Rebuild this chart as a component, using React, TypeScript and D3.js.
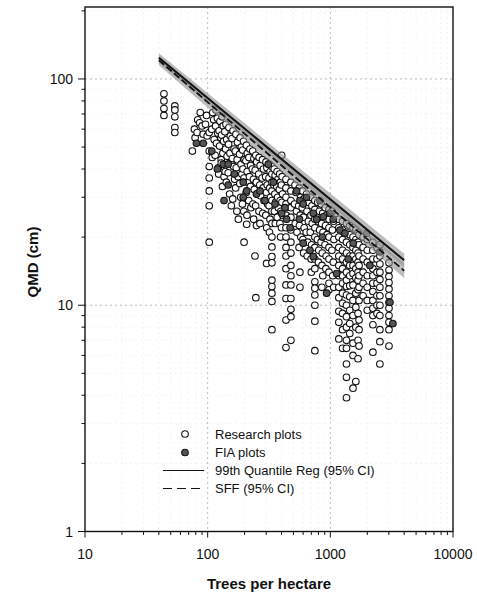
import React, { useEffect, useRef } from "react";
import * as d3 from "d3";

// [trees per hectare, QMD cm]
const researchPlots: [number, number][] = [
  [44, 86], [44, 80], [44, 74], [44, 69],
  [54, 76], [54, 73], [54, 68], [54, 61], [54, 58],
  [75, 48], [78, 60], [79, 55], [82, 58], [83, 66], [87, 71], [86, 64], [90, 62], [92, 57],
  [98, 69], [96, 63], [99, 56],
  [103, 58], [103, 48], [103, 41], [103, 36.5], [103, 32], [103, 27.5], [103, 19],
  [110, 71], [112, 66], [108, 60], [113, 54], [109, 45],
  [117, 73], [120, 67], [116, 62], [121, 57.5], [118, 52], [115, 46], [122, 40.5],
  [126, 65], [124, 59], [128, 55], [125, 50.5], [129, 44], [123, 38],
  [131, 68], [134, 62], [130, 56.5], [135, 53], [133, 47], [129, 42.5], [136, 37], [132, 33.5],
  [141, 63], [138, 58.5], [143, 54], [140, 49], [144, 45.5], [139, 39], [142, 35],
  [149, 61], [153, 56], [148, 51.5], [152, 47], [155, 43], [147, 38.5], [151, 31], [156, 27.5],
  [161, 59], [158, 54.5], [164, 49], [159, 44.5], [163, 41], [166, 36], [160, 29.5],
  [170, 57], [175, 52.5], [168, 48], [174, 44], [171, 40.5], [177, 37], [169, 33], [173, 26], [178, 24],
  [184, 55], [188, 50], [182, 46.5], [187, 42], [190, 38], [183, 34.5], [186, 30],
  [196, 53], [193, 48.5], [199, 44], [194, 40], [198, 36.5], [192, 28], [197, 26], [198, 19],
  [207, 51], [211, 47], [205, 43.5], [210, 39], [213, 35], [206, 31.5], [209, 25], [208, 22.8],
  [221, 49], [217, 45], [224, 41.5], [219, 37], [223, 33.5], [216, 29], [225, 27],
  [233, 48], [238, 44.5], [231, 40], [236, 36], [240, 32.5], [234, 28], [237, 24],
  [247, 46], [251, 43], [244, 39.5], [249, 35], [253, 31], [246, 27.5], [250, 22.5], [243, 16.5], [247, 10.8],
  [263, 45], [268, 41.5], [261, 38], [266, 34], [270, 30.5], [262, 26], [267, 23],
  [280, 44], [285, 40], [278, 36.5], [283, 33], [288, 29], [281, 25.5],
  [299, 43], [304, 40.5], [297, 37], [306, 34], [301, 31.5], [308, 28], [298, 25], [303, 22], [302, 15.3],
  [318, 42], [323, 39], [316, 36.5], [321, 33], [325, 30], [317, 27.5], [322, 24], [319, 21],
  [334, 41], [334, 38], [334, 35], [334, 32], [334, 29], [334, 26], [334, 23], [334, 20], [334, 18.1],
  [334, 16.4], [334, 15.4], [334, 12.9], [334, 12.1], [334, 11.3], [334, 10.4], [334, 7.8],
  [349, 40], [355, 37.5], [347, 34], [353, 31], [358, 28.5], [350, 26], [356, 23],
  [368, 39], [374, 36], [366, 33.5], [372, 30], [377, 27], [369, 24.5],
  [386, 38], [392, 35], [384, 32.5], [390, 29], [395, 26], [388, 23], [393, 20],
  [401, 46], [405, 37], [399, 34], [408, 31], [403, 28.5], [410, 25], [400, 22],
  [435, 36], [435, 33], [435, 30], [435, 28], [435, 25], [435, 22], [435, 20], [435, 18], [435, 16.5],
  [435, 14.5], [435, 12.3], [435, 10.7], [435, 8.6], [435, 6.5],
  [477, 35], [477, 32], [477, 29], [477, 27], [477, 24.5], [477, 21.5], [477, 19], [477, 17], [477, 15],
  [477, 13.5], [477, 12.3], [477, 10.7], [477, 9.6], [477, 8.9], [477, 7.0],
  [515, 34], [525, 31.5], [510, 28], [530, 26], [518, 23], [535, 21],
  [558, 33], [572, 30], [552, 27.5], [568, 25], [560, 22.5], [575, 20], [556, 18], [565, 14], [565, 12],
  [595, 32], [608, 29.5], [590, 27], [604, 24.5], [612, 22], [598, 19.5], [606, 17],
  [640, 31], [658, 28.5], [645, 26], [662, 23.5], [636, 21], [655, 19], [648, 16.5],
  [690, 30], [708, 27.5], [695, 25], [712, 23], [686, 21], [704, 18.5], [698, 16], [700, 14],
  [748, 29], [748, 26.5], [748, 24], [748, 22], [748, 20], [748, 18], [748, 16], [748, 14.5], [748, 12.7],
  [748, 11.9], [748, 11.1], [748, 10.0], [748, 8.5], [748, 6.3],
  [790, 28.5], [812, 26], [796, 23.5], [818, 21.5], [785, 19.5], [805, 17.5], [800, 15.5],
  [845, 28], [866, 25.5], [850, 23], [872, 21], [840, 19], [860, 17], [855, 15], [868, 13.5], [852, 12],
  [910, 27], [932, 25], [915, 22.5], [938, 20.5], [905, 18.5], [925, 16.5], [920, 14.5],
  [975, 26.5], [975, 24], [975, 22], [975, 20], [975, 18], [975, 16], [975, 14], [975, 12.5], [975, 11.7],
  [1035, 26], [1062, 23.5], [1040, 21.5], [1070, 19.5], [1030, 17.5], [1058, 15.5], [1045, 13.5], [1065, 12],
  [1173, 24], [1173, 22], [1173, 20], [1173, 18], [1173, 16.5], [1173, 15], [1173, 13.5], [1173, 12],
  [1173, 10.8], [1173, 9.4], [1173, 8.4], [1173, 7.1],
  [1258, 23.5], [1258, 21.5], [1258, 19.5], [1258, 17.5], [1258, 16], [1258, 14.5], [1258, 13.5],
  [1258, 12.5], [1258, 11.3], [1258, 10.2], [1258, 9.2], [1258, 7.8], [1258, 6.45],
  [1354, 23], [1354, 21], [1354, 19], [1354, 17], [1354, 15.5], [1354, 14], [1354, 12.9], [1354, 12.1],
  [1354, 11.1], [1354, 10.0], [1354, 8.9], [1354, 8.0], [1354, 7.0], [1354, 6.45], [1354, 5.5],
  [1354, 4.8], [1354, 3.9],
  [1440, 22.5], [1440, 20.5], [1440, 18.5], [1440, 16.5], [1440, 15], [1440, 13.5], [1440, 12.2],
  [1440, 10.9], [1440, 9.5], [1440, 8.3], [1440, 7.5],
  [1530, 22], [1530, 20], [1530, 18], [1530, 16.5], [1530, 15], [1530, 13.8], [1530, 12.3], [1530, 10.5],
  [1530, 9.0], [1530, 6.8], [1530, 6.0], [1530, 4.3],
  [1614, 21.5], [1614, 19.5], [1614, 17.5], [1614, 16], [1614, 14.5], [1614, 13.2], [1614, 11.3],
  [1614, 9.8], [1614, 8.0], [1614, 4.6],
  [1682, 21], [1682, 19], [1682, 17], [1682, 15.5], [1682, 14], [1682, 12.9], [1682, 11.7], [1682, 9.2],
  [1682, 7.0], [1682, 5.8],
  [1714, 20.5], [1714, 18.5], [1714, 16.5], [1714, 15], [1714, 13.5], [1714, 12], [1714, 10.5],
  [1714, 8.6], [1714, 7.8], [1714, 6.6],
  [1850, 20], [1850, 18], [1850, 16], [1850, 14], [1850, 12.5], [1850, 11],
  [2000, 19.5], [2000, 17.5], [2000, 15.5], [2000, 13.5], [2000, 12], [2000, 10.5], [2000, 9.5],
  [2223, 19], [2223, 17.5], [2223, 16], [2223, 14.5], [2223, 13.5], [2223, 12.5], [2223, 11.5],
  [2223, 10.5], [2223, 9.7], [2223, 9], [2223, 8.2], [2223, 6.2],
  [2400, 18], [2400, 16], [2400, 14], [2400, 12.5], [2400, 11], [2400, 10], [2400, 9.2],
  [2535, 18.5], [2535, 16.5], [2535, 15.2], [2535, 14], [2535, 13], [2535, 12], [2535, 11], [2535, 10],
  [2535, 9], [2535, 7.8], [2535, 6.9], [2535, 5.5],
  [3006, 15.4], [3006, 14.3], [3006, 13.4], [3006, 12.6], [3006, 11.8], [3006, 11], [3006, 10.3],
  [3006, 9.7], [3006, 9], [3006, 8.4], [3006, 7.8], [3006, 6.6],
];

const fiaPlots: [number, number][] = [
  [81, 52], [92, 52], [108, 48], [120, 40], [134, 42], [147, 42], [147, 34], [136, 29], [165, 38],
  [195, 35], [208, 32], [195, 30], [250, 31], [267, 32], [293, 29], [312, 42], [343, 35], [354, 28],
  [401, 25.5], [427, 27], [440, 24], [470, 22], [531, 32], [560, 24], [565, 29], [601, 28], [641, 30],
  [726, 25.5], [773, 24], [823, 29], [860, 20], [875, 24.6], [990, 25.5], [1056, 24], [601, 18.8],
  [682, 17.5], [726, 16.4], [933, 11.3], [1125, 13.8], [1198, 21.5], [1315, 20.8], [1400, 16],
  [1537, 18.8], [1977, 20.8], [2100, 15], [2536, 17.2], [3236, 8.3], [3060, 10.3],
];

// fitted lines, end points in trees per hectare
const lineTph = [40, 4000];
const q99Fit = [124, 15.8];
const q99Lower = [118, 14.8];
const q99Upper = [130, 16.9];
const sffFit = [121, 14.2];
const sffLower = [115, 13.2];
const sffUpper = [127, 15.3];

const xTickLabels = [10, 100, 1000, 10000];
const yTickLabels = [1, 10, 100];
const legendLabels = ["Research plots", "FIA plots", "99th Quantile Reg (95% CI)", "SFF (95% CI)"];

const W = 477;
const H = 596;
const FONT = "'Liberation Sans', Arial, Helvetica, sans-serif";

const App: React.FC = () => {
  const svgRef = useRef<SVGSVGElement | null>(null);

  useEffect(() => {
    if (!svgRef.current) return;
    const svg = d3.select(svgRef.current);
    svg.selectAll("*").remove();

    const left = 85, right = 453, top = 7, bottom = 531.5;
    const x = d3.scaleLog().domain([10, 10000]).range([left, right]);
    const y = d3.scaleLog().domain([1, 208]).range([bottom, top]);

    svg.append("rect").attr("width", W).attr("height", H).attr("fill", "#fff");

    const isMajor = (v: number) => Math.abs(Math.log10(v) - Math.round(Math.log10(v))) < 1e-9;

    // faint grid (major decades a little darker)
    const grid = svg.append("g");
    x.ticks().filter((v) => v > 10 && v < 10000).forEach((v) => {
      grid.append("line")
        .attr("x1", x(v)).attr("x2", x(v)).attr("y1", top).attr("y2", bottom)
        .attr("stroke", isMajor(v) ? "#a8a8a8" : "#f0f0f0")
        .attr("stroke-width", 0.8)
        .attr("stroke-dasharray", "2,3");
    });
    y.ticks().filter((v) => v > 1 && v < 208).forEach((v) => {
      grid.append("line")
        .attr("y1", y(v)).attr("y2", y(v)).attr("x1", left).attr("x2", right)
        .attr("stroke", isMajor(v) ? "#a8a8a8" : "#f0f0f0")
        .attr("stroke-width", 0.8)
        .attr("stroke-dasharray", "2,3");
    });

    // points
    const pts = svg.append("g");
    pts.selectAll(".research")
      .data(researchPlots)
      .enter()
      .append("circle")
      .attr("class", "research")
      .attr("cx", (d) => x(d[0]))
      .attr("cy", (d) => y(d[1]))
      .attr("r", 3.3)
      .attr("fill", "#fff")
      .attr("stroke", "#111")
      .attr("stroke-width", 1.1);

    pts.selectAll(".fia")
      .data(fiaPlots)
      .enter()
      .append("circle")
      .attr("class", "fia")
      .attr("cx", (d) => x(d[0]))
      .attr("cy", (d) => y(d[1]))
      .attr("r", 3.3)
      .attr("fill", "#555")
      .attr("stroke", "#111")
      .attr("stroke-width", 1.1);

    // confidence bands and lines
    const band = (lo: number[], hi: number[]) =>
      d3.area<number>()
        .x((d) => x(d))
        .y0((_, i) => y(lo[i]))
        .y1((_, i) => y(hi[i]))(lineTph) as string;
    const line = (vals: number[]) =>
      d3.line<number>().x((d) => x(d)).y((_, i) => y(vals[i]))(lineTph) as string;

    svg.append("path").attr("d", band(q99Lower, q99Upper)).attr("fill", "#909090").attr("opacity", 0.6);
    svg.append("path").attr("d", band(sffLower, sffUpper)).attr("fill", "#909090").attr("opacity", 0.6);
    svg.append("path").attr("d", line(q99Fit)).attr("fill", "none").attr("stroke", "#111").attr("stroke-width", 2);
    svg.append("path").attr("d", line(sffFit)).attr("fill", "none").attr("stroke", "#111")
      .attr("stroke-width", 1.8).attr("stroke-dasharray", "7,3");

    // frame
    svg.append("rect")
      .attr("x", left).attr("y", top).attr("width", right - left).attr("height", bottom - top)
      .attr("fill", "none").attr("stroke", "#111").attr("stroke-width", 1.4);

    // ticks
    const ax = svg.append("g").attr("stroke", "#111").attr("stroke-width", 1);
    x.ticks().forEach((v) => {
      ax.append("line").attr("x1", x(v)).attr("x2", x(v))
        .attr("y1", bottom).attr("y2", bottom + (isMajor(v) ? 6 : 3.5));
    });
    y.ticks().forEach((v) => {
      ax.append("line").attr("y1", y(v)).attr("y2", y(v))
        .attr("x1", left).attr("x2", left - (isMajor(v) ? 7 : 3.5));
    });

    const labels = svg.append("g").attr("font-family", FONT).attr("fill", "#111");
    labels.selectAll(".xl").data(xTickLabels).enter().append("text")
      .attr("x", (d) => x(d)).attr("y", 559)
      .attr("text-anchor", "middle").attr("font-size", 14)
      .text((d) => String(d));
    labels.selectAll(".yl").data(yTickLabels).enter().append("text")
      .attr("x", 73).attr("y", (d) => y(d) + 5)
      .attr("text-anchor", "end").attr("font-size", 14)
      .text((d) => String(d));

    labels.append("text")
      .attr("x", (left + right) / 2).attr("y", 589)
      .attr("text-anchor", "middle").attr("font-size", 15).attr("font-weight", 700)
      .text("Trees per hectare");
    labels.append("text")
      .attr("transform", `translate(38, 262) rotate(-90)`)
      .attr("text-anchor", "middle").attr("font-size", 15).attr("font-weight", 700)
      .text("QMD (cm)");

    // legend
    const lg = svg.append("g").attr("font-family", FONT).attr("font-size", 13).attr("fill", "#111");
    const rowY = [434, 452.5, 470.5, 488.5];
    lg.append("circle").attr("cx", 185).attr("cy", rowY[0]).attr("r", 3.3)
      .attr("fill", "#fff").attr("stroke", "#111").attr("stroke-width", 1.1);
    lg.append("circle").attr("cx", 185).attr("cy", rowY[1]).attr("r", 3.3)
      .attr("fill", "#555").attr("stroke", "#111").attr("stroke-width", 1.1);
    lg.append("line").attr("x1", 163).attr("x2", 204).attr("y1", rowY[2]).attr("y2", rowY[2])
      .attr("stroke", "#111").attr("stroke-width", 1.2);
    lg.append("line").attr("x1", 163).attr("x2", 204).attr("y1", rowY[3]).attr("y2", rowY[3])
      .attr("stroke", "#111").attr("stroke-width", 1.2).attr("stroke-dasharray", "9,5");
    legendLabels.forEach((t, i) => {
      lg.append("text").attr("x", 215).attr("y", rowY[i] + 4.5).text(t);
    });
  }, []);

  return (
    <svg
      ref={svgRef}
      width={W}
      height={H}
      style={{ position: "absolute", left: 0, top: 0 }}
      role="img"
    />
  );
};

export default App;
